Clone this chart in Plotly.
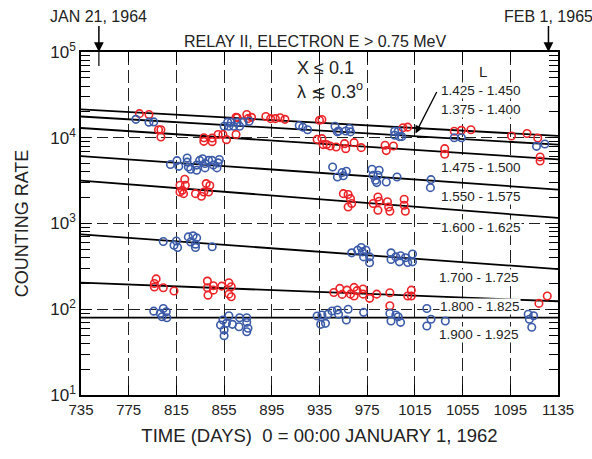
import plotly.graph_objects as go

# ---------------- data ----------------
x_ticks = [735, 775, 815, 855, 895, 935, 975, 1015, 1055, 1095, 1135]
y_tickvals = [10, 100, 1000, 10000, 100000]
y_ticktext = ["10<sup>1</sup>", "10<sup>2</sup>", "10<sup>3</sup>", "10<sup>4</sup>", "10<sup>5</sup>"]

# fitted decay lines: value at day 735 and at day 1135
line_days = [735, 1135]
line_a = [21400, 10500]
line_b = [17700, 8300]
line_c = [13000, 5600]
line_d = [6100, 2490]
line_e = [3170, 1160]
line_f = [745, 294]
line_g = [204, 124]
line_h = [80, 80]

top_red_days = [784, 792, 865, 866, 874, 875, 878, 890, 894, 898, 902, 906, 935, 937, 1005, 1009,
                1048, 1054, 1062, 1096, 1109, 1118]
top_red_vals = [19100, 18700, 17300, 17100, 18700, 16700, 17300, 17700, 16700, 16700, 17100, 16400,
                16000, 16300, 13100, 13300, 11900, 12200, 12400, 10500, 11200, 9930]

top_blue_days = [781, 792, 796, 855, 858, 859, 861, 863, 866, 868, 871, 876, 918, 921, 925, 948, 950,
                 951, 957, 960, 961, 998, 998, 1001, 1002, 1004, 1048, 1054, 1117, 1124]
top_blue_vals = [16400, 15200, 15300, 13600, 15200, 13600, 15200, 13600, 15100, 13600, 15200, 15600,
                 13900, 13300, 12400, 13600, 11700, 12000, 12000, 12800, 11700, 11900, 10700, 11900,
                 10300, 10300, 10000, 10000, 7940, 8450]

c_red_days = [800, 802, 802, 838, 838, 845, 845, 850, 854, 857, 865, 933, 937, 938, 941, 944, 949, 956,
              957, 964, 970, 990, 991, 997, 1040, 1040, 1120, 1120]
c_red_vals = [12400, 12400, 10200, 10000, 9080, 9950, 9000, 10900, 10900, 9500, 10900, 9570, 9770, 8320,
              8320, 8000, 7790, 8530, 7460, 8770, 7670, 8170, 7080, 8000, 7460, 6410, 5960, 5350]

d_blue_days = [810, 815.5, 817, 824, 824, 825, 827, 832, 832, 834.5, 837, 839, 839, 842, 845, 846, 849,
               850, 851, 946, 950, 954, 955, 957.5, 979, 980, 982, 983, 984, 985, 991, 1000, 1028.5, 1028]
d_blue_vals = [4870, 5410, 4640, 5810, 5200, 4560, 4290, 4180, 4800, 5450, 5700, 5000, 4450, 5450, 5450,
               4800, 4450, 5100, 5580, 4560, 3490, 3930, 3600, 4070, 4290, 3650, 3190, 3000, 3650, 4180,
               3050, 3490, 3250, 2620]

e_red_days = [822, 818, 820, 821, 822.5, 818, 831, 836, 840, 843, 838, 842, 955, 959, 961, 962, 959, 980,
              984, 985, 984, 992, 993, 994, 1006, 1006, 1007]
e_red_vals = [3280, 2790, 2440, 2230, 2790, 2330, 2230, 2080, 2920, 2770, 2330, 2330, 2230, 2180, 1950,
              1710, 1560, 1710, 2040, 1820, 1430, 1790, 1560, 1390, 1920, 1630, 1390]

f_blue_days = [804, 813, 815, 816, 825, 827, 829, 832, 831, 831, 845, 962, 967, 970, 971, 972, 974, 977,
               977, 995, 995, 999, 1002, 1003, 1007, 1009, 1013, 1013]
f_blue_vals = [617, 558, 624, 526, 698, 610, 718, 680, 574, 526, 535, 455, 489, 526, 467, 408, 489, 408,
               348, 455, 381, 408, 357, 420, 398, 351, 357, 440]

g_red_days = [798, 796.5, 796.5, 804, 813, 841, 841, 841.5, 846, 846, 853, 859, 861, 859, 861, 947, 952,
              954, 958, 964, 964, 961, 966.5, 971.5, 971.5, 977, 983, 994, 994, 1009, 1012, 1012, 1119, 1126]
g_red_vals = [226, 200, 182, 178, 163, 213, 178, 146, 188, 167, 186, 204, 183, 150, 140, 157, 175, 149,
              167, 180, 143, 150, 165, 172, 150, 134, 150, 156, 110, 143, 167, 143, 117, 143]

h_blue_days = [796, 801.5, 804, 806.5, 807, 803, 852, 854, 855, 855, 859, 857, 862, 868, 867.5, 874, 874,
               874, 875, 933, 936, 937, 940, 942, 945.5, 950, 951, 957.5, 959, 972, 994, 995, 999, 1001,
               1003, 1025, 1028.5, 1025, 1040.5, 1110, 1114.5, 1111, 1113]
h_blue_vals = [95, 89.5, 102, 93.6, 79.7, 81.8, 65.5, 74.8, 57.3, 49.2, 84, 68.5, 66.7, 79.6, 62.5, 79.6,
               70.3, 54.7, 60, 83.4, 66.7, 85.7, 68.5, 87.4, 95.3, 98, 87.4, 74.8, 99.8, 92, 89.5, 72.9,
               85.7, 81.8, 70.3, 102, 76.3, 63.8, 72.9, 87.4, 84, 76.3, 61.7]

l_labels = ["1.425 - 1.450", "1.375 - 1.400", "1.475 - 1.500", "1.550 - 1.575",
            "1.600 - 1.625", "1.700 - 1.725", "1.800 - 1.825", "1.900 - 1.925"]
jan21_1964_day = 750
feb1_1965_day = 1127

# ---------------- styling ----------------
RED = "#ec2227"
BLUE = "#3b5ba9"
FONT = "Liberation Sans, Arial, sans-serif"
W, H = 592, 459
ML, MR, MT, MB = 81, 34, 52, 64
PW, PH = W - ML - MR, H - MT - MB


def px_to_paper(px, py):
    return (px - ML) / PW, (H - MB - py) / PH


fig = go.Figure()

for ln in [line_a, line_b, line_c, line_d, line_e, line_f, line_g, line_h]:
    fig.add_trace(go.Scatter(x=line_days, y=ln, mode="lines",
                             line=dict(color="black", width=1.8), hoverinfo="skip"))

groups = [
    (top_red_days, top_red_vals, RED), (top_blue_days, top_blue_vals, BLUE),
    (c_red_days, c_red_vals, RED), (d_blue_days, d_blue_vals, BLUE),
    (e_red_days, e_red_vals, RED), (f_blue_days, f_blue_vals, BLUE),
    (g_red_days, g_red_vals, RED), (h_blue_days, h_blue_vals, BLUE),
]
for dx, dy, col in groups:
    fig.add_trace(go.Scatter(x=dx, y=dy, mode="markers",
                             marker=dict(symbol="circle-open", size=7.5, color=col,
                                         line=dict(color=col, width=1.6))))

annotations = []
# curve labels (pixel centres in the frame)
label_px = [(481, 90.5), (481, 109.5), (481, 167), (481, 196), (481, 227.5), (479, 277.5),
            (480, 306.5), (479, 334)]
for txt, (px, py) in zip(l_labels, label_px):
    xp, yp = px_to_paper(px, py)
    annotations.append(dict(x=xp, y=yp, xref="paper", yref="paper", text=txt, showarrow=False,
                            font=dict(family=FONT, size=13.5, color="#222"), bgcolor="white",
                            borderpad=0, xanchor="center", yanchor="middle"))

# leader arrow for 1.425 - 1.450
annotations.append(dict(x=1015.5, y=4.05, xref="x", yref="y", text="", showarrow=True,
                        arrowhead=2, arrowsize=1.2, arrowwidth=1.3, arrowcolor="black",
                        ax=22, ay=-43, axref="pixel", ayref="pixel"))

xp, yp = px_to_paper(483, 72)
annotations.append(dict(x=xp, y=yp, xref="paper", yref="paper", text="L", showarrow=False,
                        font=dict(family=FONT, size=15, color="#222"),
                        xanchor="center", yanchor="middle"))
xp, yp = px_to_paper(295, 68)
annotations.append(dict(x=xp, y=yp, xref="paper", yref="paper", text="X \u2264 0.1", showarrow=False,
                        font=dict(family=FONT, size=18, color="#222"), xanchor="left", yanchor="middle"))
xp, yp = px_to_paper(295, 91)
annotations.append(dict(x=xp, y=yp, xref="paper", yref="paper", text="\u03bb \u2272 0.3<sup>o</sup>",
                        showarrow=False, font=dict(family=FONT, size=18, color="#222"),
                        xanchor="left", yanchor="middle"))

# title
annotations.append(dict(x=(315 - ML) / PW, y=1, xref="paper", yref="paper",
                        text="RELAY II, ELECTRON E > 0.75 MeV", showarrow=False,
                        font=dict(family=FONT, size=16, color="#222"),
                        xanchor="center", yanchor="bottom", yshift=0))

# date arrows
for day, txt in [(jan21_1964_day, "JAN 21, 1964"), (feb1_1965_day, "FEB 1, 1965")]:
    annotations.append(dict(x=day, y=1, xref="x", yref="paper", text=txt, showarrow=True,
                            arrowhead=2, arrowsize=1.3, arrowwidth=1.5, arrowcolor="black",
                            ax=0, ay=-36, font=dict(family=FONT, size=16, color="#222"),
                            standoff=0))

fig.update_layout(
    width=W, height=H,
    margin=dict(l=ML, r=MR, t=MT, b=MB),
    paper_bgcolor="white", plot_bgcolor="white",
    showlegend=False,
    font=dict(family=FONT, color="#222"),
    annotations=annotations,
    shapes=[dict(type="line", xref="x", yref="paper", x0=jan21_1964_day, x1=jan21_1964_day,
                 y0=1, y1=1 - 14 / PH, line=dict(color="black", width=1.2))],
)

fig.update_xaxes(
    range=[735, 1135], tickvals=x_ticks, ticks="inside", ticklen=10, tickwidth=1.2,
    tickcolor="black", mirror="ticks", showline=True, linecolor="black", linewidth=1.5,
    showgrid=True, gridcolor="#222", gridwidth=1.1, griddash="13px,5px", zeroline=False,
    tickfont=dict(family=FONT, size=15, color="#222"),
    title=dict(text="TIME (DAYS)  0 = 00:00 JANUARY 1, 1962",
               font=dict(family=FONT, size=18.5, color="#222"), standoff=12),
)
minor_vals = [m * 10 ** e for e in range(1, 5) for m in range(2, 10)]
fig.update_yaxes(
    type="log", range=[1, 5], tickvals=y_tickvals, ticktext=y_ticktext,
    ticks="inside", ticklen=10, tickwidth=1.2, tickcolor="black", mirror="ticks",
    showline=True, linecolor="black", linewidth=1.5,
    showgrid=True, gridcolor="#222", gridwidth=1.1, griddash="11px,5px", zeroline=False,
    tickfont=dict(family=FONT, size=17, color="#222"),
    minor=dict(tickvals=minor_vals, ticks="inside", ticklen=9, tickwidth=1.1,
               tickcolor="black", showgrid=False),
    title=dict(text="COUNTING RATE", font=dict(family=FONT, size=18, color="#222"), standoff=17),
)

fig.write_html("out.html", post_script="document.body.style.margin='0';",
               config={"displayModeBar": False})
